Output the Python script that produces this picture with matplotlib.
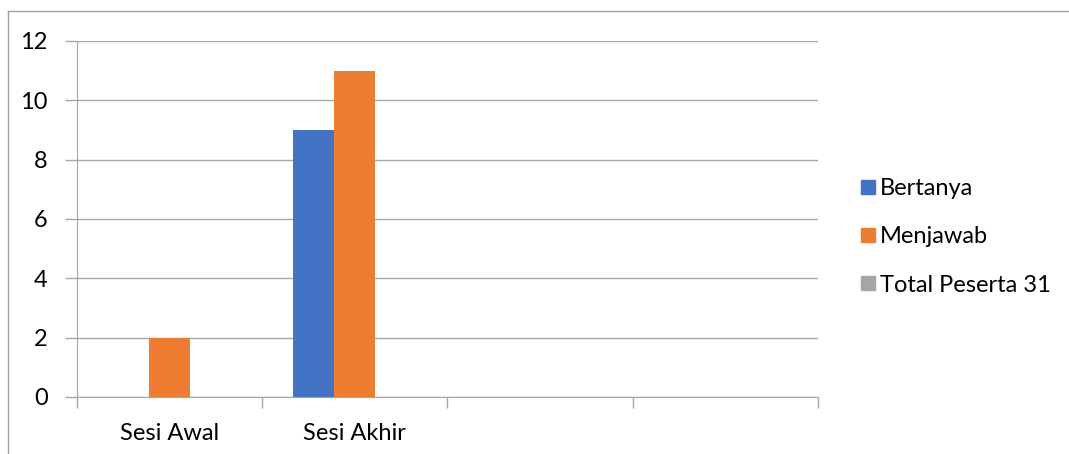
import numpy as np
import matplotlib.pyplot as plt
from matplotlib.lines import Line2D

plt.rcParams['font.family'] = ['Lato', 'DejaVu Sans']

# data
categories = ['Sesi Awal', 'Sesi Akhir', '', '']
bertanya = [0, 9, 0, 0]
menjawab = [2, 11, 0, 0]
total_peserta = [0, 0, 0, 0]

series = [('Bertanya', bertanya, '#4472C4'),
          ('Menjawab', menjawab, '#ED7D31'),
          ('Total Peserta 31', total_peserta, '#A5A5A5')]

fig = plt.figure(figsize=(10.69, 4.54), dpi=100)
ax = fig.add_axes([0.072, 0.1256, 0.693, 0.7841])

x = np.arange(len(categories))
width = 0.222
for i, (name, vals, col) in enumerate(series):
    ax.bar(x + (i - 1) * width, vals, width, color=col, label=name, zorder=3)

grid_col = '#A6A6A6'
fs = 17
ax.set_ylim(0, 12)
ax.set_yticks(range(0, 13, 2))
ax.set_xlim(-0.5, len(categories) - 0.5)
ax.yaxis.grid(True, color=grid_col, linewidth=1, zorder=0)

# category labels between boundary ticks
ax.set_xticks(np.arange(len(categories) + 1) - 0.5)
ax.set_xticklabels([])
ax.set_xticks(x, minor=True)
ax.set_xticklabels(categories, minor=True)
ax.tick_params(axis='x', which='major', length=8, color=grid_col, width=1)
ax.tick_params(axis='x', which='minor', length=0, pad=19, labelsize=fs)
ax.tick_params(axis='y', length=9, color=grid_col, width=1, pad=12, labelsize=fs)

for side in ['top', 'right']:
    ax.spines[side].set_visible(False)
ax.spines['left'].set_color(grid_col)
ax.spines['bottom'].set_color(grid_col)

handles = [Line2D([], [], marker='s', linestyle='', markersize=10.5,
                  markerfacecolor=c, markeredgecolor=c) for _, _, c in series]
fig.legend(handles, [s[0] for s in series], loc='center left',
           bbox_to_anchor=(848 / 1069, 1 - 237 / 454), frameon=False,
           fontsize=fs, labelspacing=1.15, handlelength=0.7, handletextpad=0.15,
           borderpad=0)

# outer chart border (left and top visible in the crop)
fig.add_artist(Line2D([8 / 1069, 8 / 1069], [0, 1 - 11 / 454], color='#A0A0A0', lw=1))
fig.add_artist(Line2D([8 / 1069, 1], [1 - 11 / 454, 1 - 11 / 454], color='#A0A0A0', lw=1))

fig.savefig('out.png', dpi=100)
